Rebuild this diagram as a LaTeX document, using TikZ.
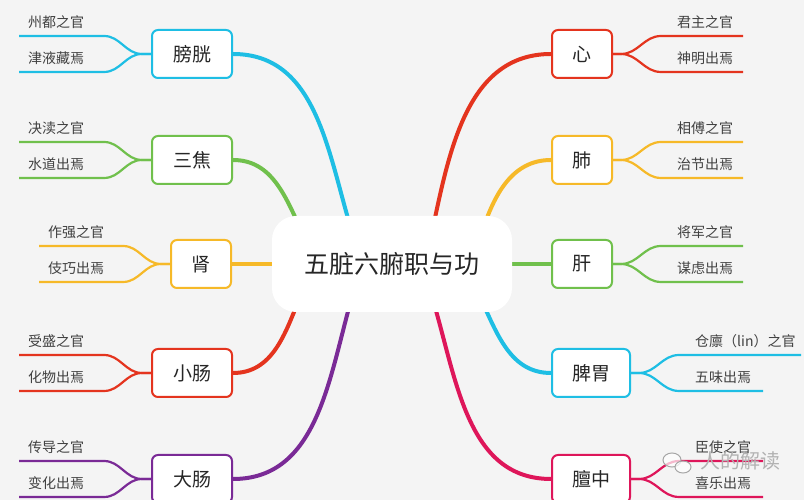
\documentclass[tikz,border=0pt]{standalone}
\usepackage{fontspec}
\newfontfamily\cjk{Noto Sans CJK SC}
\usetikzlibrary{calc}
\pgfdeclarelayer{back}
\pgfdeclarelayer{bg}
\pgfsetlayers{back,bg,main}
\definecolor{bgc}{RGB}{244,244,244}
\definecolor{cx}{RGB}{30,190,228}
\definecolor{gx}{RGB}{112,192,76}
\definecolor{yx}{RGB}{246,185,40}
\definecolor{rx}{RGB}{228,52,30}
\definecolor{px}{RGB}{122,42,150}
\definecolor{kx}{RGB}{222,22,90}
\tikzset{
  organ/.style={draw=#1, line width=2pt, rounded corners=6pt, fill=white, minimum width=80pt, minimum height=48pt, inner sep=0pt, text=black!85, font=\cjk\fontsize{19}{19}\selectfont},
  leaf/.style={anchor=base west, inner sep=0pt, text=black!75, font=\cjk\fontsize{14}{14}\selectfont},
  branch/.style={line width=4pt, line cap=round},
  twig/.style={line width=2.2pt},
}

\begin{document}
\begin{tikzpicture}[x=1pt,y=1pt]
    \clip (0,0) rectangle (804,500);
    \begin{pgfonlayer}{back}
        \fill[bgc] (0,0) rectangle (804,500);
    \end{pgfonlayer}

    \node[fill=white, rounded corners=24pt, minimum width=240pt, minimum height=96pt, text=black!85, font=\cjk\fontsize{25}{25}\selectfont] (root) at (392,236) {五脏六腑职与功};

    \node[organ=cx] (pg) at (192,446) {膀胱};
    \node[organ=gx] (sj) at (192,340) {三焦};
    \node[organ=yx, minimum width=60pt] (shen) at (201,236) {肾};
    \node[organ=rx] (xc) at (192,127) {小肠};
    \node[organ=px] (dc) at (192,21) {大肠};
    \node[organ=rx, minimum width=60pt] (xin) at (582,446) {心};
    \node[organ=yx, minimum width=60pt] (fei) at (582,340) {肺};
    \node[organ=gx, minimum width=60pt] (gan) at (582,236) {肝};
    \node[organ=cx, minimum width=78pt] (pw) at (591,127) {脾胃};
    \node[organ=kx, minimum width=78pt] (dz) at (591,21) {膻中};

    \begin{pgfonlayer}{bg}
        \draw[branch, cx] ($(root)+(-40,32)$) to[out=107,in=0] (pg.east);
        \draw[branch, gx] ($(root)+(-90,32)$) to[out=115,in=0] (sj.east);
        \draw[branch, yx] (root) -- (shen.east);
        \draw[branch, rx] ($(root)+(-92,-33)$) to[out=248,in=0] (xc.east);
        \draw[branch, px] ($(root)+(-40,-33)$) to[out=254,in=0] (dc.east);
        \draw[branch, rx] ($(root)+(40,32)$) to[out=78,in=180] (xin.west);
        \draw[branch, yx] ($(root)+(90,32)$) to[out=72,in=180] (fei.west);
        \draw[branch, gx] (root) -- (gan.west);
        \draw[branch, cx] ($(root)+(88,-33)$) to[out=-65,in=180] (pw.west);
        \draw[branch, kx] ($(root)+(40,-33)$) to[out=-73,in=180] (dz.west);

        \foreach \o/\c/\la/\lb/\ta/\tb in {pg/cx/85/85/州都之官/津液藏焉, sj/gx/85/85/决渎之官/水道出焉, shen/yx/84/84/作强之官/伎巧出焉, xc/rx/85/85/受盛之官/化物出焉, dc/px/85/85/传导之官/变化出焉}{
            \draw[twig, \c] (\o.west) -- ++(-9,0) to[out=180,in=0] ++(-38,18) -- ++(-\la,0) coordinate (\o-a);
            \draw[twig, \c] (\o.west) -- ++(-9,0) to[out=180,in=0] ++(-38,-18) -- ++(-\lb,0) coordinate (\o-b);
            \node[leaf] (\o-1) at ($(\o-a)+(9,8)$) {\ta};
            \node[leaf] (\o-2) at ($(\o-b)+(9,8)$) {\tb};
        }
        \foreach \o/\c/\la/\lb/\ta/\tb in {xin/rx/82/82/君主之官/神明出焉, fei/yx/82/82/相傅之官/治节出焉, gan/gx/82/82/将军之官/谋虑出焉, pw/cx/122/84/仓廪（lin）之官/五味出焉, dz/kx/84/84/臣使之官/喜乐出焉}{
            \draw[twig, \c] (\o.east) -- ++(8,0) to[out=0,in=180] ++(40,18) coordinate (\o-p) -- ++(\la,0) coordinate (\o-a);
            \draw[twig, \c] (\o.east) -- ++(8,0) to[out=0,in=180] ++(40,-18) coordinate (\o-q) -- ++(\lb,0) coordinate (\o-b);
            \node[leaf] (\o-1) at ($(\o-p)+(16,8)$) {\ta};
            \node[leaf] (\o-2) at ($(\o-q)+(16,8)$) {\tb};
        }
    \end{pgfonlayer}

    \draw[black!35, line width=1pt, fill=white, fill opacity=0.7] (672,40) ellipse (9 and 7);
    \draw[black!35, line width=1pt, fill=white, fill opacity=0.7] (683,33) ellipse (8 and 6);
    \node[text=black!30, font=\cjk\fontsize{20}{20}\selectfont] (wm) at (740,39) {人的解读};
\end{tikzpicture}
\end{document}
